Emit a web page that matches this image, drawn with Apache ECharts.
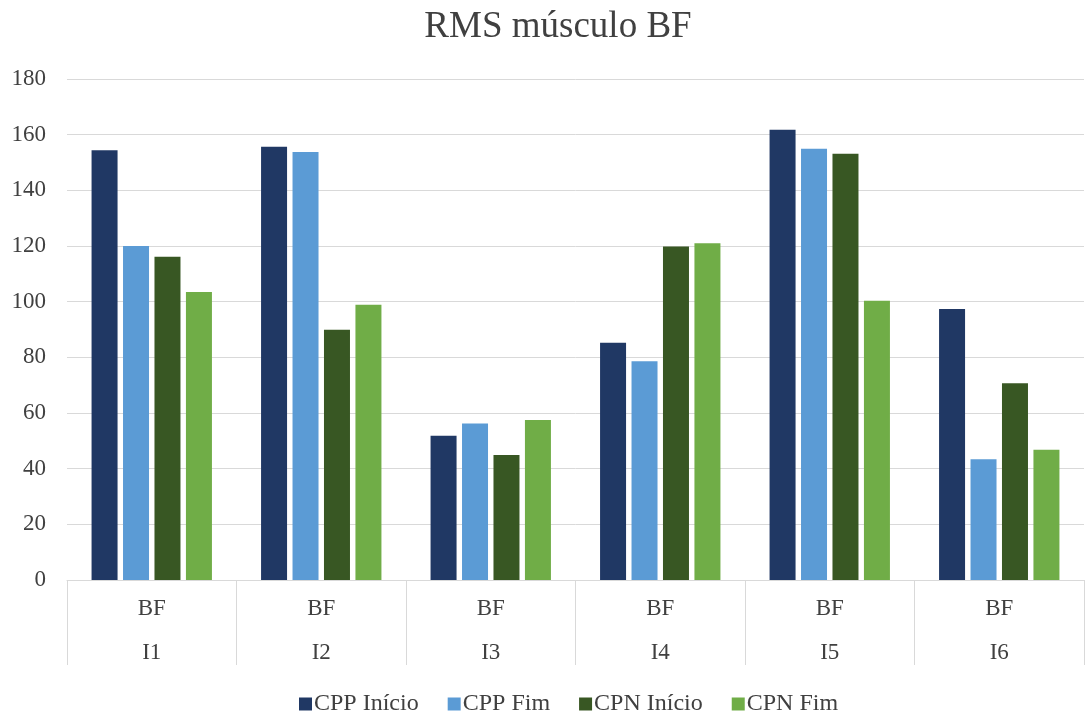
<!DOCTYPE html>
<html>
<head>
<meta charset="utf-8">
<script src="https://cdn.jsdelivr.net/npm/echarts@6/dist/echarts.min.js"></script>
<style>
  html, body { margin: 0; padding: 0; background: #fff; }
  #chart { width: 1087px; height: 713px; }
</style>
</head>
<body>
<div id="chart"></div>
<script>
// Muscle group (first row) and subject (second row) for each category
const muscles = ['BF', 'BF', 'BF', 'BF', 'BF', 'BF'];
const subjects = ['I1', 'I2', 'I3', 'I4', 'I5', 'I6'];

// RMS values per condition
const cppInicio = [154.4, 155.7, 51.8, 85.2, 161.8, 97.4];
const cppFim    = [120.0, 153.8, 56.2, 78.6, 154.9, 43.4];
const cpnInicio = [116.1, 89.9, 44.9, 119.8, 153.1, 70.7];
const cpnFim    = [103.5, 98.9, 57.5, 121.0, 100.3, 46.8];

const seriesNames = ['CPP Início', 'CPP Fim', 'CPN Início', 'CPN Fim'];
const seriesColors = ['#203864', '#5B9BD5', '#385723', '#70AD47'];
const seriesData = [cppInicio, cppFim, cpnInicio, cpnFim];

const font = 'Liberation Serif, Times New Roman, serif';
const textColor = '#404040';
const lineColor = '#D9D9D9';

const chart = echarts.init(document.getElementById('chart'), null, { renderer: 'canvas' });

chart.setOption({
  backgroundColor: '#ffffff',
  animation: false,
  title: {
    text: 'RMS músculo BF',
    left: 553,
    textAlign: 'center',
    top: 4,
    textStyle: { fontFamily: font, fontSize: 37, fontWeight: 'normal', color: textColor }
  },
  legend: {
    top: 687,
    left: 294,
    icon: 'rect',
    itemWidth: 13,
    itemHeight: 13,
    itemGap: 29,
    textStyle: { fontFamily: font, fontSize: 24, color: textColor, padding: [0, 0, 0, -3] },
    data: seriesNames
  },
  grid: { left: 67, right: 3, top: 79, bottom: 133, containLabel: false },
  xAxis: [
    {
      type: 'category',
      data: muscles,
      axisLine: { lineStyle: { color: lineColor, width: 1 } },
      axisTick: { show: true, length: 85, lineStyle: { color: lineColor, width: 1 } },
      axisLabel: { fontFamily: font, fontSize: 23, color: textColor, margin: 17 }
    },
    {
      type: 'category',
      position: 'bottom',
      data: subjects,
      axisLine: { show: false },
      axisTick: { show: false },
      axisLabel: { fontFamily: font, fontSize: 23, color: textColor, margin: 61 }
    }
  ],
  yAxis: {
    type: 'value',
    min: 0,
    max: 180,
    interval: 20,
    axisLine: { show: false },
    axisTick: { show: false },
    splitLine: { lineStyle: { color: lineColor, width: 1 } },
    axisLabel: { fontFamily: font, fontSize: 23, color: textColor, margin: 21 }
  },
  series: seriesData.map((d, i) => ({
    name: seriesNames[i],
    type: 'bar',
    xAxisIndex: 0,
    data: d,
    barWidth: 26,
    barGap: '21%',
    itemStyle: { color: seriesColors[i] }
  }))
});
</script>
</body>
</html>
